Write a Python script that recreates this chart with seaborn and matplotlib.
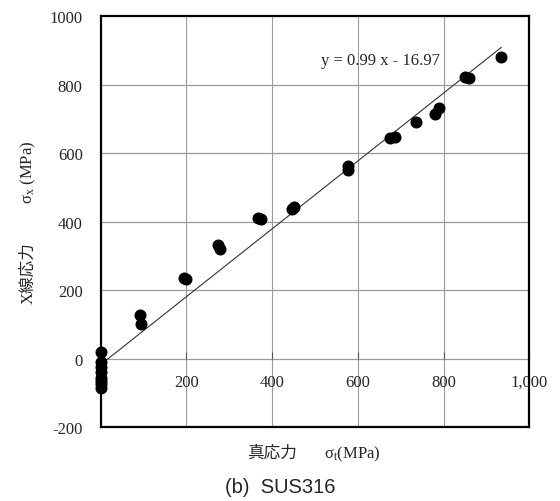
import numpy as np
import pandas as pd
import matplotlib
matplotlib.use('Agg')
import matplotlib.pyplot as plt
import seaborn as sns

# values (MPa)
true_stress = [0, 0, 0, 0, 0, 0, 0, 0,
               92, 93, 194, 198, 274, 278, 367, 373, 446, 450,
               577, 577, 675, 687, 736, 780, 790, 850, 860, 935]
xray_stress = [20, -10, -25, -40, -55, -65, -75, -85,
               128, 100, 235, 232, 333, 320, 411, 408, 437, 442,
               563, 550, 645, 646, 690, 714, 731, 822, 820, 880]

fit_slope = 0.99
fit_icpt = -16.97
fit_x = [0, 935]
fit_y = [fit_slope * v + fit_icpt for v in fit_x]

x_ticks = [200, 400, 600, 800, 1000]
x_ticklabels = ['200', '400', '600', '800', '1,000']
y_ticks = [-200, 0, 200, 400, 600, 800, 1000]

df = pd.DataFrame({'x': true_stress, 'y': xray_stress})
df_fit = pd.DataFrame({'x': fit_x, 'y': fit_y})

sns.set_style('white')
plt.rcParams['font.family'] = ['Liberation Serif', 'Noto Sans CJK JP']
plt.rcParams['mathtext.fontset'] = 'custom'
plt.rcParams['mathtext.rm'] = 'Liberation Serif'
plt.rcParams['mathtext.it'] = 'Liberation Serif:italic'

W, H = 560, 502
fig = plt.figure(figsize=(5.6, 5.02), dpi=100)
ax = fig.add_axes([0.180, 0.147, 0.765, 0.819])

# grid
for v in [200, 400, 600, 800]:
    ax.axvline(v, color='#9a9a9a', lw=0.8, zorder=0)
for v in [0, 200, 400, 600, 800]:
    ax.axhline(v, color='#9a9a9a', lw=0.9, zorder=0)

sns.lineplot(data=df_fit, x='x', y='y', color='#333333', lw=0.8, ax=ax, zorder=2)
sns.scatterplot(data=df, x='x', y='y', color='black', s=75, edgecolor='black',
                linewidth=0, ax=ax, zorder=3, clip_on=False)

ax.set_xlim(0, 1000)
ax.set_ylim(-200, 1000)
ax.set_yticks(y_ticks)
ax.set_yticklabels([str(v) for v in y_ticks], fontsize=12)
ax.set_xticks([])
ax.set_xlabel('')
ax.set_ylabel('')
ax.tick_params(axis='y', length=0, pad=13)
for s in ax.spines.values():
    s.set_linewidth(1.6)
    s.set_color('black')

# x tick labels sit on the zero line
sec = ax.secondary_xaxis(1 / 6)
sec.set_xticks(x_ticks)
sec.set_xticklabels(x_ticklabels, fontsize=12)
sec.tick_params(axis='x', direction='in', length=5, width=0.8, color='#555555', pad=11)
sec.spines['bottom'].set_visible(False)

ax.text(652, 871, 'y = 0.99 x - 16.97', fontsize=12, ha='center', va='center')

# axis titles (Japanese part and sigma part drawn separately)
fig.text(272 / W, 1 - 454 / H, '真応力', fontsize=12, ha='center', va='center')
fig.text(352 / W, 1 - 454 / H, 'σ$_\\mathrm{t}$(MPa)', fontsize=12,
         ha='center', va='center')
fig.text(28 / W, 1 - 273 / H, 'X線応力', fontsize=12, ha='center', va='center',
         rotation=90)
fig.text(28 / W, 1 - 172 / H, 'σ$_\\mathrm{x}$ (MPa)', fontsize=12,
         ha='center', va='center', rotation=90)

fig.text(0.5, 0.028, '(b)  SUS316', fontsize=14.5, ha='center', va='center',
         family=['Liberation Sans', 'DejaVu Sans'])

fig.savefig('out.png', dpi=100)
